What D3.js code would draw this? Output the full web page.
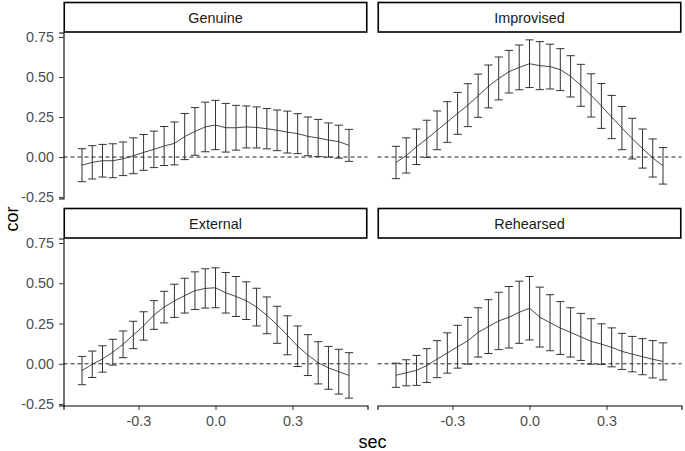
<!DOCTYPE html>
<html><head><meta charset="utf-8">
<script src="https://cdn.jsdelivr.net/npm/d3@7"></script>
<style>
body{margin:0;background:#fff}
svg{display:block}
text{font-family:"Liberation Sans",Arial,sans-serif}
</style>
</head><body>
<svg id="c" width="685" height="451"></svg>
<script>
// ---- data ----
const lags = [-0.52,-0.48,-0.44,-0.40,-0.36,-0.32,-0.28,-0.24,-0.20,-0.16,-0.12,-0.08,-0.04,0.00,
              0.04,0.08,0.12,0.16,0.20,0.24,0.28,0.32,0.36,0.40,0.44,0.48,0.52];
const panelNames = ["Genuine","Improvised","External","Rehearsed"];

const genuineMean = [-0.051,-0.033,-0.023,-0.023,-0.011,0.008,0.029,0.048,0.069,0.085,0.128,0.160,0.188,0.200,
                     0.183,0.183,0.188,0.185,0.177,0.167,0.156,0.146,0.129,0.119,0.106,0.096,0.073];
const genuineErr  = [0.103,0.104,0.102,0.106,0.105,0.112,0.112,0.114,0.122,0.134,0.144,0.149,0.155,0.154,
                     0.152,0.140,0.131,0.128,0.126,0.127,0.131,0.125,0.121,0.116,0.107,0.103,0.100];

const improvisedMean = [-0.034,0.010,0.064,0.114,0.167,0.219,0.273,0.324,0.383,0.441,0.491,0.533,0.560,0.583,
                        0.571,0.565,0.546,0.504,0.448,0.385,0.319,0.250,0.181,0.115,0.053,-0.006,-0.055];
const improvisedErr  = [0.101,0.110,0.111,0.116,0.121,0.127,0.131,0.134,0.135,0.134,0.134,0.133,0.140,0.149,
                        0.150,0.140,0.131,0.129,0.131,0.135,0.140,0.135,0.135,0.127,0.122,0.119,0.114];

const externalMean = [-0.042,-0.003,0.030,0.072,0.121,0.179,0.235,0.303,0.352,0.391,0.423,0.454,0.468,0.472,
                      0.441,0.418,0.392,0.352,0.301,0.242,0.177,0.109,0.054,0.006,-0.025,-0.049,-0.072];
const externalErr  = [0.088,0.082,0.082,0.080,0.083,0.085,0.088,0.089,0.098,0.103,0.108,0.117,0.122,0.124,
                      0.126,0.124,0.117,0.117,0.114,0.115,0.121,0.126,0.127,0.131,0.133,0.139,0.141];

const rehearsedMean = [-0.071,-0.056,-0.041,-0.011,0.029,0.067,0.106,0.143,0.195,0.231,0.266,0.289,0.320,0.345,
                       0.290,0.255,0.222,0.195,0.167,0.139,0.122,0.102,0.077,0.060,0.044,0.028,0.015];
const rehearsedErr  = [0.075,0.081,0.093,0.105,0.115,0.125,0.133,0.145,0.153,0.167,0.178,0.191,0.193,0.197,
                       0.186,0.174,0.164,0.153,0.146,0.141,0.126,0.121,0.112,0.110,0.112,0.116,0.115];

const xTicks = [-0.3, 0.0, 0.3];
const yTicks = [-0.25, 0.00, 0.25, 0.50, 0.75];
const xTitle = "sec", yTitle = "cor";

// ---- build ----
const means = [genuineMean, improvisedMean, externalMean, rehearsedMean];
const errs  = [genuineErr, improvisedErr, externalErr, rehearsedErr];

const svg = d3.select("#c");
const cols = [{x0:63.5, x1:367.5},{x0:377.5, x1:681.5}];
const rows = [{s0:2.5, top:32.5, bottom:198.5},{s0:208.5, top:238.5, bottom:405.5}];
const xDomain = [-0.592, 0.592];
const yDomain = [-0.259, 0.778];
const capHalf = 0.016;
const ink = "#333333";
const tickFont = "14.4px";
const fmtX = v => d3.format(".1f")(v).replace("\u2212", "-");
const fmtY = v => d3.format(".2f")(v).replace("\u2212", "-");

panelNames.forEach((name, i) => {
  const c = cols[i % 2], r = rows[Math.floor(i / 2)];
  const x = d3.scaleLinear().domain(xDomain).range([c.x0, c.x1]);
  const y = d3.scaleLinear().domain(yDomain).range([r.bottom, r.top]);
  const g = svg.append("g");
  const data = lags.map((t, k) => ({t, m: means[i][k], e: errs[i][k]}));

  // strip
  g.append("rect").attr("x", c.x0 + 0.75).attr("y", r.s0).attr("width", c.x1 - c.x0 - 1.5)
    .attr("height", r.top - r.s0 - 0.5).attr("fill", "#fff").attr("stroke", "#000").attr("stroke-width", 1.6);
  g.append("text").attr("x", (c.x0 + c.x1) / 2).attr("y", (r.s0 + r.top) / 2).attr("dy", "0.36em")
    .attr("text-anchor", "middle").attr("font-size", "14.4px").attr("fill", "#1a1a1a").text(name);

  // zero reference
  g.append("line").attr("x1", c.x0).attr("x2", c.x1).attr("y1", y(0)).attr("y2", y(0))
    .attr("stroke", "#222").attr("stroke-width", 1).attr("stroke-dasharray", "4,3");

  // error bars
  const eb = g.append("g").attr("stroke", ink).attr("stroke-width", 1).attr("fill", "none");
  data.forEach(d => {
    eb.append("line").attr("x1", x(d.t)).attr("x2", x(d.t)).attr("y1", y(d.m - d.e)).attr("y2", y(d.m + d.e));
    eb.append("line").attr("x1", x(d.t - capHalf)).attr("x2", x(d.t + capHalf)).attr("y1", y(d.m - d.e)).attr("y2", y(d.m - d.e));
    eb.append("line").attr("x1", x(d.t - capHalf)).attr("x2", x(d.t + capHalf)).attr("y1", y(d.m + d.e)).attr("y2", y(d.m + d.e));
  });

  // mean line
  g.append("path").datum(data).attr("fill", "none").attr("stroke", ink).attr("stroke-width", 0.9)
    .attr("d", d3.line().x(d => x(d.t)).y(d => y(d.m)));

  // axes
  if (i % 2 === 0) {
    const ay = g.append("g").attr("transform", `translate(${c.x0},0)`)
      .call(d3.axisLeft(y).tickValues(yTicks).tickFormat(fmtY).tickSizeOuter(0).tickSize(4.5).tickPadding(5));
    ay.select(".domain").attr("stroke", "#000").attr("stroke-width", 1.1);
    ay.selectAll(".tick line").attr("stroke", ink).attr("stroke-width", 1);
    ay.selectAll(".tick text").attr("font-size", tickFont).attr("fill", "#4d4d4d")
      .attr("font-family", "Liberation Sans, Arial, sans-serif");
  }
  if (Math.floor(i / 2) === 1) {
    const ax = g.append("g").attr("transform", `translate(0,${r.bottom})`)
      .call(d3.axisBottom(x).tickValues(xTicks).tickFormat(fmtX).tickSizeOuter(0).tickSize(4.5).tickPadding(6));
    ax.select(".domain").attr("stroke", "#000").attr("stroke-width", 1.1);
    ax.selectAll(".tick line").attr("stroke", ink).attr("stroke-width", 1);
    ax.selectAll(".tick text").attr("font-size", tickFont).attr("fill", "#4d4d4d")
      .attr("font-family", "Liberation Sans, Arial, sans-serif");
  }
});

// axis titles
svg.append("text").attr("x", (cols[0].x0 + cols[1].x1) / 2).attr("y", 447.5).attr("text-anchor", "middle")
  .attr("font-size", "18px").attr("fill", "#000").text(xTitle);
svg.append("text").attr("transform", `translate(17.5,${(rows[0].top + rows[1].bottom) / 2}) rotate(-90)`)
  .attr("text-anchor", "middle").attr("font-size", "18px").attr("fill", "#000").text(yTitle);
</script>
</body></html>
